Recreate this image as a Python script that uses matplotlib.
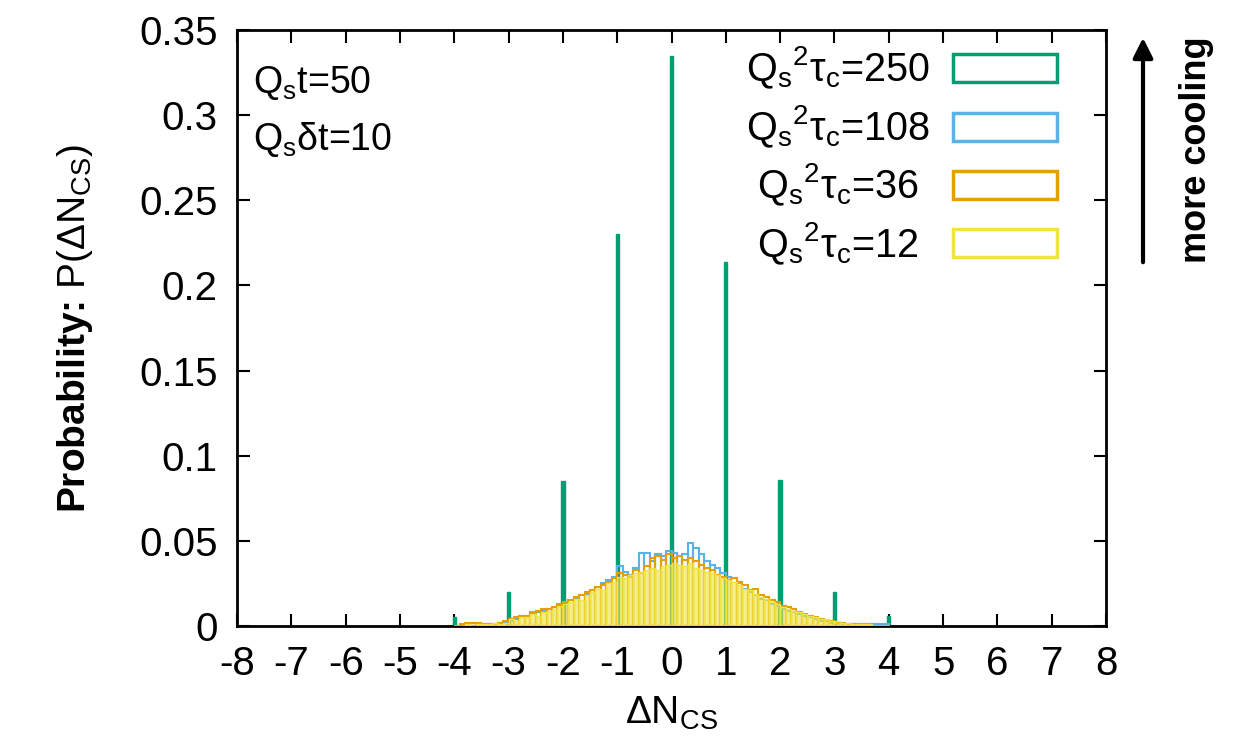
import numpy as np
import matplotlib
matplotlib.use("Agg")
import matplotlib.pyplot as plt
from matplotlib.patches import Rectangle

plt.rcParams['font.family'] = ['Liberation Sans', 'DejaVu Sans']
plt.rcParams['mathtext.fontset'] = 'custom'
plt.rcParams['mathtext.rm'] = 'Liberation Sans'
plt.rcParams['mathtext.it'] = 'Liberation Sans'
plt.rcParams['mathtext.bf'] = 'Liberation Sans:bold'
plt.rcParams['mathtext.default'] = 'regular'
plt.rcParams['axes.unicode_minus'] = False

# integer spikes for the strongest cooling
spike_x = [-4, -3, -2, -1, 0, 1, 2, 3, 4]
p_250 = [0.005, 0.020, 0.085, 0.230, 0.335, 0.214, 0.086, 0.020, 0.006]

# 0.1-wide bins from -4.0 to 4.0 (left edges)
bin_left = np.round(np.arange(-4.0, 4.0, 0.1), 1)

p_108 = [0.000, 0.000, 0.000, 0.000, 0.000, 0.001, 0.001, 0.001, 0.002, 0.002,
         0.003, 0.004, 0.005, 0.006, 0.007, 0.008, 0.009, 0.010, 0.011, 0.012,
         0.013, 0.015, 0.016, 0.018, 0.019, 0.021, 0.023, 0.025, 0.027, 0.029,
         0.035, 0.032, 0.030, 0.034, 0.043, 0.043, 0.038, 0.042, 0.041, 0.044,
         0.043, 0.041, 0.042, 0.049, 0.046, 0.042, 0.038, 0.036, 0.034, 0.031,
         0.029, 0.028, 0.026, 0.022, 0.020, 0.018, 0.016, 0.015, 0.013, 0.012,
         0.010, 0.009, 0.008, 0.007, 0.006, 0.005, 0.004, 0.003, 0.003, 0.002,
         0.002, 0.001, 0.001, 0.001, 0.001, 0.001, 0.001, 0.001, 0.001, 0.001]

p_36 = [0.000, 0.001, 0.002, 0.002, 0.002, 0.001, 0.001, 0.001, 0.002, 0.003,
        0.004, 0.005, 0.006, 0.006, 0.008, 0.009, 0.010, 0.010, 0.011, 0.013,
        0.014, 0.015, 0.017, 0.018, 0.020, 0.021, 0.023, 0.024, 0.026, 0.028,
        0.031, 0.030, 0.029, 0.033, 0.031, 0.035, 0.040, 0.041, 0.039, 0.042,
        0.040, 0.041, 0.039, 0.040, 0.038, 0.036, 0.034, 0.033, 0.030, 0.029,
        0.027, 0.028, 0.025, 0.024, 0.021, 0.022, 0.018, 0.017, 0.015, 0.014,
        0.012, 0.011, 0.010, 0.008, 0.007, 0.006, 0.005, 0.004, 0.003, 0.003,
        0.002, 0.002, 0.001, 0.001, 0.001, 0.001, 0.000, 0.000, 0.000, 0.000]

p_12 = [0.000, 0.000, 0.001, 0.000, 0.001, 0.001, 0.001, 0.002, 0.001, 0.002,
        0.004, 0.003, 0.005, 0.005, 0.007, 0.006, 0.008, 0.009, 0.010, 0.012,
        0.013, 0.014, 0.016, 0.015, 0.018, 0.020, 0.022, 0.021, 0.025, 0.026,
        0.029, 0.028, 0.030, 0.031, 0.032, 0.033, 0.034, 0.033, 0.035, 0.036,
        0.037, 0.036, 0.035, 0.037, 0.034, 0.033, 0.032, 0.031, 0.030, 0.028,
        0.027, 0.026, 0.024, 0.022, 0.021, 0.019, 0.017, 0.016, 0.014, 0.013,
        0.011, 0.010, 0.009, 0.008, 0.007, 0.006, 0.005, 0.004, 0.004, 0.003,
        0.003, 0.002, 0.002, 0.001, 0.001, 0.001, 0.001, 0.000, 0.000, 0.000]

labels = [r'Q$_s{}^2$τ$_c$=250', r'Q$_s{}^2$τ$_c$=108',
          r'Q$_s{}^2$τ$_c$=36', r'Q$_s{}^2$τ$_c$=12']
colors = ['#009E73', '#56B4E9', '#E69F00', '#F0E442']

fig = plt.figure(figsize=(12.34, 7.5), dpi=100)
ax = fig.add_axes([237/1234, 1-626/750, (1106-237)/1234, (626-30)/750])

ax.bar(spike_x, p_250, width=0.06, facecolor=colors[0], edgecolor=colors[0], lw=1, zorder=2)
ax.bar(bin_left + 0.05, p_108, width=0.1, facecolor='none', edgecolor=colors[1], lw=1.5, zorder=3)
ax.bar(bin_left + 0.05, p_36, width=0.1, facecolor='none', edgecolor=colors[2], lw=1.5, zorder=4)
ax.bar(bin_left + 0.05, p_12, width=0.1, facecolor=(0.94, 0.89, 0.26, 0.6),
       edgecolor=colors[3], lw=1.0, zorder=5)

ax.set_xlim(-8, 8)
ax.set_ylim(0, 0.35)
ax.set_xticks(range(-8, 9))
ax.set_yticks([0, 0.05, 0.1, 0.15, 0.2, 0.25, 0.3, 0.35])
ax.set_yticklabels(['0', '0.05', '0.1', '0.15', '0.2', '0.25', '0.3', '0.35'])
ax.tick_params(direction='in', length=9, width=1.5, top=True, right=True,
               labelsize=29, pad=14)
for s in ax.spines.values():
    s.set_linewidth(2)

ax.set_xlabel(r'ΔN$_{CS}$', fontsize=28, labelpad=8)
ax.set_ylabel(r'Probability: $\mathrm{P(ΔN_{CS})}$', fontsize=28,
              fontweight='bold', labelpad=32)

# annotations top-left
fig.text(253/1234, 1-93/750, r'Q$_s$t=50', fontsize=27, va='baseline')
fig.text(253/1234, 1-150/750, r'Q$_s$δt=10', fontsize=27, va='baseline')

# legend drawn by hand (centred text, outlined sample boxes)
for i, (lab, c) in enumerate(zip(labels, colors)):
    yc = 68 + 58.5 * i
    fig.text(838/1234, 1-yc/750, lab, fontsize=28.5, ha='center', va='center')
    fig.add_artist(Rectangle((953/1234, 1-(yc+14)/750), 104/1234, 28/750,
                             facecolor='none', edgecolor=c, lw=2.5,
                             transform=fig.transFigure))

# cooling arrow
ax.annotate('', xy=(1143, 715), xytext=(1143, 485), xycoords='figure pixels',
            textcoords='figure pixels',
            arrowprops=dict(arrowstyle='-|>', lw=3, color='black', mutation_scale=30))
fig.text(1197/1234, 1-150/750, 'more cooling', rotation=90, fontsize=26,
         fontweight='bold', ha='center', va='center')

fig.savefig('out.png', dpi=100)
